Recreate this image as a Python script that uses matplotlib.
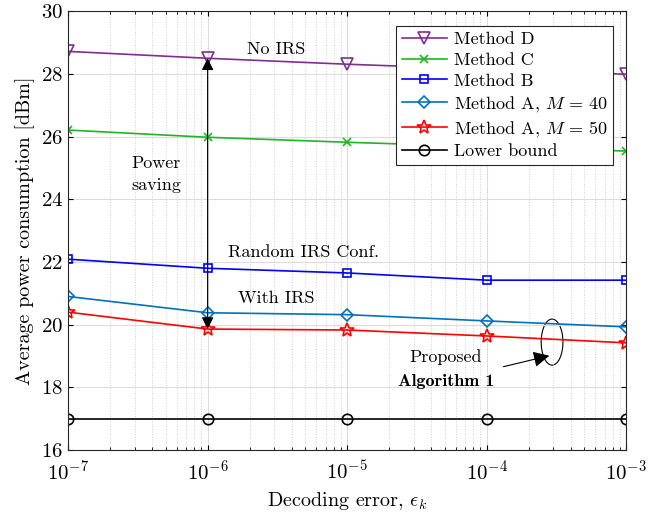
import matplotlib
matplotlib.use('Agg')
import matplotlib.pyplot as plt
from matplotlib.patches import Ellipse
import numpy as np

plt.rcParams['font.family'] = 'serif'
plt.rcParams['font.serif'] = ['cmr10']
plt.rcParams['mathtext.fontset'] = 'cm'
plt.rcParams['axes.formatter.use_mathtext'] = True

# data
eps = [1e-7, 1e-6, 1e-5, 1e-4, 1e-3]
method_d = [28.72, 28.50, 28.31, 28.15, 27.99]
method_c = [26.21, 25.98, 25.82, 25.68, 25.54]
method_b = [22.09, 21.80, 21.65, 21.42, 21.42]
method_a40 = [20.90, 20.38, 20.32, 20.12, 19.93]
method_a50 = [20.40, 19.86, 19.83, 19.64, 19.42]
lower_bound = [17.0, 17.0, 17.0, 17.0, 17.0]

series = [
    (method_d, 'Method D', '#7E2F8E', 'v', 9),
    (method_c, 'Method C', '#22B322', 'x', 6),
    (method_b, 'Method B', '#0000FF', 's', 6),
    (method_a40, r'Method A, $M$ = 40', '#0072BD', 'D', 6.5),
    (method_a50, r'Method A, $M$ = 50', '#FF0000', '*', 10),
    (lower_bound, 'Lower bound', '#000000', 'o', 7.5),
]

fig = plt.figure(figsize=(6.67, 5.12), dpi=100)
ax = fig.add_axes([0.102, 0.121, 0.837, 0.857])

for vals, lab, col, mk, ms in series:
    ax.plot(eps, vals, color=col, marker=mk, markersize=ms, markerfacecolor='none',
            markeredgewidth=1.2, linewidth=1.2, label=lab)

ax.set_xscale('log')
ax.set_xlim(1e-7, 1e-3)
ax.set_ylim(16, 30)
ax.set_yticks(np.arange(16, 31, 2))
ax.grid(True, which='major', color='#dcdcdc', linewidth=0.8)
ax.grid(True, which='minor', axis='x', color='#cfcfcf', linestyle=':', linewidth=0.7)
ax.tick_params(labelsize=15, direction='in', which='both', top=True, right=True)
ax.tick_params(axis='x', pad=7)
for s in ax.spines.values():
    s.set_color('#262626')
    s.set_linewidth(0.8)

ax.set_xlabel(r'Decoding error, $\epsilon_k$', fontsize=14.5)
ax.set_ylabel('Average power consumption [dBm]', fontsize=14.5)

leg = ax.legend(loc='upper right', bbox_to_anchor=(0.977, 0.966), fontsize=13,
                fancybox=False, edgecolor='#262626', framealpha=1,
                handlelength=2.5, borderpad=0.3, labelspacing=0.28, handletextpad=0.4,
                borderaxespad=0)
leg.get_frame().set_linewidth(0.8)

# annotations
ax.text(3.1e-6, 28.78, 'No IRS', fontsize=13, ha='center', va='center')
ax.text(4.9e-6, 22.3, 'Random IRS Conf.', fontsize=13, ha='center', va='center')
ax.text(3.1e-6, 20.85, 'With IRS', fontsize=13, ha='center', va='center')
ax.text(4.3e-7, 24.8, 'Power\nsaving', fontsize=13, ha='center', va='center',
        linespacing=1.5)
ax.annotate('', xy=(1e-6, 28.5), xytext=(1e-6, 19.86),
            arrowprops=dict(arrowstyle='<|-|>', color='black', lw=0.8,
                            mutation_scale=18, shrinkA=0, shrinkB=0))

ax.add_patch(Ellipse((0.867, 0.246), 0.039, 0.105, transform=ax.transAxes,
                     fill=False, edgecolor='black', linewidth=0.8))
ax.annotate('', xy=(0.862, 0.215), xytext=(0.78, 0.19), xycoords='axes fraction',
            textcoords='axes fraction',
            arrowprops=dict(arrowstyle='-|>', color='black', lw=0.8,
                            mutation_scale=24, shrinkA=0, shrinkB=0))
ax.text(0.677, 0.212, 'Proposed', transform=ax.transAxes, fontsize=13,
        ha='center', va='center')
ax.text(0.677, 0.157, 'Algorithm 1', transform=ax.transAxes, fontsize=13,
        family='cmb10', ha='center', va='center')

fig.savefig('out.png', dpi=100)
